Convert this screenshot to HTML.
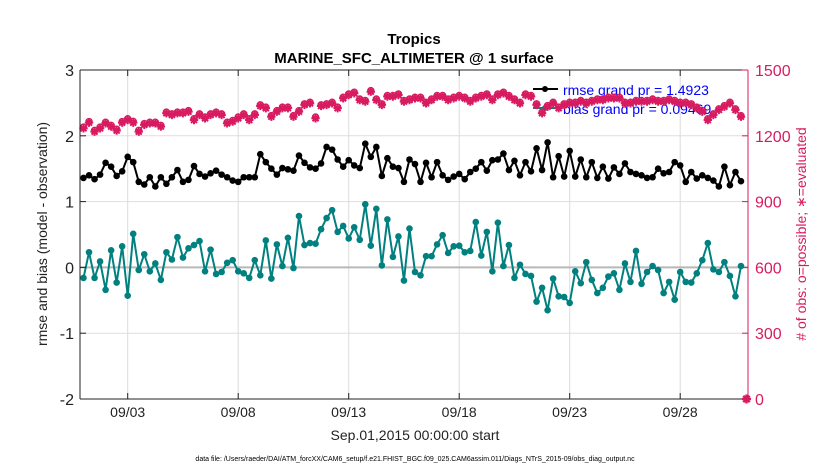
<!DOCTYPE html>
<html><head><meta charset="utf-8"><style>
body{margin:0;background:#fff;}
svg{display:block;font-family:"Liberation Sans",Arial,sans-serif;}
</style></head><body>
<svg id="chart" width="830" height="470" viewBox="0 0 830 470"></svg>
<script>
const rmse=[1.36,1.40,1.34,1.41,1.59,1.53,1.39,1.46,1.68,1.60,1.30,1.26,1.37,1.23,1.37,1.27,1.37,1.48,1.30,1.33,1.54,1.42,1.38,1.43,
1.47,1.41,1.37,1.32,1.30,1.37,1.37,1.37,1.72,1.60,1.50,1.41,1.51,1.49,1.47,1.70,1.59,1.52,1.50,1.58,1.83,1.79,1.64,1.53,
1.63,1.55,1.51,1.88,1.68,1.83,1.39,1.66,1.53,1.51,1.30,1.64,1.57,1.30,1.59,1.37,1.60,1.40,1.33,1.38,1.42,1.34,1.45,1.50,
1.60,1.47,1.63,1.64,1.73,1.48,1.62,1.40,1.60,1.46,1.81,1.48,1.90,1.37,1.69,1.38,1.77,1.38,1.64,1.37,1.60,1.36,1.53,1.35,
1.52,1.42,1.58,1.45,1.42,1.40,1.36,1.37,1.50,1.43,1.45,1.60,1.55,1.30,1.45,1.35,1.40,1.36,1.32,1.23,1.53,1.25,1.45,1.31];
const bias=[-0.16,0.23,-0.16,0.09,-0.34,0.26,-0.23,0.32,-0.43,0.51,-0.04,0.20,-0.06,0.06,-0.19,0.23,0.12,0.46,0.15,0.29,0.34,0.40,-0.06,0.27,
-0.10,-0.07,0.07,0.11,-0.06,-0.09,-0.16,0.11,-0.12,0.41,-0.17,0.35,0.02,0.45,-0.01,0.78,0.34,0.37,0.36,0.58,0.75,0.87,0.54,0.63,
0.44,0.61,0.42,0.96,0.33,0.89,0.03,0.73,0.16,0.47,-0.20,0.59,-0.07,-0.12,0.17,0.17,0.35,0.49,0.22,0.32,0.33,0.23,0.25,0.69,
0.18,0.54,-0.06,0.68,0.02,0.34,-0.16,0.04,-0.10,-0.13,-0.52,-0.31,-0.65,-0.17,-0.44,-0.45,-0.54,-0.06,-0.24,0.08,-0.19,-0.39,
-0.31,-0.14,-0.09,-0.34,0.06,-0.22,0.25,-0.25,-0.07,0.02,-0.04,-0.39,-0.22,-0.49,-0.07,-0.22,-0.23,-0.09,0.11,0.37,-0.03,-0.07,0.08,-0.13,-0.44,0.02];
const obsUsed=[1234,1260,1219,1234,1257,1242,1224,1260,1272,1260,1219,1250,1257,1257,1242,1303,1295,1303,1303,1310,1272,1295,1280,1295,
1303,1295,1257,1265,1280,1295,1272,1295,1336,1326,1287,1310,1326,1326,1287,1310,1341,1348,1280,1336,1341,1348,1326,1371,
1386,1394,1363,1356,1401,1363,1341,1379,1379,1386,1356,1363,1371,1371,1348,1363,1379,1379,1363,1371,1379,1371,1356,1371,
1379,1386,1363,1386,1394,1379,1363,1348,1386,1379,1341,1303,1333,1348,1326,1341,1348,1348,1356,1348,1356,1363,1363,1371,
1371,1371,1348,1348,1356,1356,1356,1363,1356,1356,1363,1356,1348,1348,1341,1326,1310,1272,1295,1318,1333,1348,1318,1287];
const obsPossible=[1240,1265,1225,1240,1262,1248,1230,1265,1278,1266,1225,1256,1262,1262,1248,1308,1300,1308,1308,1315,1278,1300,1286,1300,
1308,1300,1262,1270,1286,1300,1278,1300,1341,1331,1292,1315,1331,1331,1292,1315,1346,1353,1286,1341,1346,1353,1331,1376,
1391,1399,1368,1361,1406,1368,1346,1384,1384,1391,1361,1368,1376,1376,1353,1368,1384,1384,1368,1376,1384,1376,1361,1376,
1384,1391,1368,1391,1399,1384,1368,1353,1391,1384,1346,1308,1338,1353,1331,1346,1353,1353,1361,1353,1361,1368,1368,1376,
1376,1376,1353,1353,1361,1361,1361,1368,1361,1361,1368,1361,1353,1353,1346,1331,1315,1278,1300,1323,1338,1353,1323,1292];
const xTickDays=[2,7,12,17,22,27];
const xTickLabels=["09/03","09/08","09/13","09/18","09/23","09/28"];
const yTicks=[3,2,1,0,-1,-2];
const y2Ticks=[1500,1200,900,600,300,0];

const NS="http://www.w3.org/2000/svg";
const svg=document.getElementById('chart');
const L=80,R=748,T=70,B=399;
const xs=d=>83.5+d*22.1;
const ys=v=>T+(3-v)*(B-T)/5;
const y2s=v=>B-v*(B-T)/1500;
function mk(tag,attrs,parent){const e=document.createElementNS(NS,tag);for(const k in attrs)e.setAttribute(k,attrs[k]);(parent||svg).appendChild(e);return e;}
const MAG="#d81b60",TEAL="#00807f";

yTicks.forEach(v=>{if(v!==3&&v!==-2){const g=mk('line',{x1:L,x2:R,y1:ys(v),y2:ys(v),stroke:'#ecd7df','stroke-width':1});

}});
xTickDays.forEach(d=>{const g=mk('line',{x1:xs(d),x2:xs(d),y1:T,y2:B,stroke:'#dcdcdc','stroke-width':1});

});

const lg=mk('g',{});


mk('line',{x1:533,x2:558,y1:89,y2:89,stroke:'#000','stroke-width':2},lg);
mk('circle',{cx:545,cy:89,r:3,fill:'#000'},lg);
const lt1=mk('text',{x:563,y:95,'font-size':14,fill:'#0000ff'},lg);lt1.textContent='rmse grand pr = 1.4923';


mk('line',{x1:533,x2:558,y1:108,y2:108,stroke:TEAL,'stroke-width':2},lg);
mk('circle',{cx:545,cy:108,r:3,fill:TEAL},lg);
const lt2=mk('text',{x:563,y:114,'font-size':14,fill:'#0000ff'},lg);lt2.textContent='bias grand pr = 0.09469';



const zl=mk('line',{x1:L,x2:R,y1:ys(0),y2:ys(0),stroke:'#b8b8b8','stroke-width':2});



const og=mk('g',{});


obsPossible.forEach((v,i)=>{const c=mk('circle',{cx:xs(i/4),cy:y2s(v),r:3,fill:'none',stroke:MAG,'stroke-width':1.4},og);

});
obsUsed.forEach((v,i)=>{const x=xs(i/4),y=y2s(v);const p=mk('path',{d:`M${x-4.2},${y}H${x+4.2}M${x},${y-4.2}V${y+4.2}M${x-3},${y-3}L${x+3},${y+3}M${x-3},${y+3}L${x+3},${y-3}`,stroke:MAG,'stroke-width':2},og);

});
{const x=xs(30.0),y=y2s(0);const p=mk('path',{d:`M${x-4.5},${y}H${x+4.5}M${x},${y-4.5}V${y+4.5}M${x-3.2},${y-3.2}L${x+3.2},${y+3.2}M${x-3.2},${y+3.2}L${x+3.2},${y-3.2}`,stroke:MAG,'stroke-width':2.4});

}

function series(arr,color,name){
 const g=mk('g',{});
 
 
 mk('polyline',{points:arr.map((v,i)=>xs(i/4)+','+ys(v)).join(' '),fill:'none',stroke:color,'stroke-width':2,'stroke-linejoin':'round'},g);
 arr.forEach((v,i)=>{const c=mk('circle',{cx:xs(i/4),cy:ys(v),r:3.3,fill:color},g);
 
 });
}
series(rmse,'#000','rmse-series');
series(bias,TEAL,'bias-series');

const ax=mk('g',{});


mk('line',{x1:L,x2:R,y1:T,y2:T,stroke:'#222','stroke-width':1},ax);
mk('line',{x1:L,x2:R,y1:B,y2:B,stroke:'#222','stroke-width':1},ax);
mk('line',{x1:L,x2:L,y1:T,y2:B,stroke:'#222','stroke-width':1},ax);
mk('line',{x1:R,x2:R,y1:T,y2:B,stroke:MAG,'stroke-width':1},ax);
yTicks.forEach(v=>{mk('line',{x1:L,x2:L+6,y1:ys(v),y2:ys(v),stroke:'#222'},ax);
 const t=mk('text',{x:L-6,y:ys(v)+6,'font-size':16,'text-anchor':'end',fill:'#222'},ax);t.textContent=v;
 
 });
y2Ticks.forEach(v=>{mk('line',{x1:R-6,x2:R,y1:y2s(v),y2:y2s(v),stroke:MAG},ax);
 const t=mk('text',{x:R+7,y:y2s(v)+6,'font-size':16,fill:MAG},ax);t.textContent=v;
 
 });
xTickDays.forEach((d,i)=>{mk('line',{x1:xs(d),x2:xs(d),y1:B-6,y2:B,stroke:'#222'},ax);mk('line',{x1:xs(d),x2:xs(d),y1:T,y2:T+6,stroke:'#222'},ax);
 const t=mk('text',{x:xs(d),y:417,'font-size':14,'text-anchor':'middle',fill:'#222'},ax);t.textContent=xTickLabels[i];
 
 });

function txt(s,attrs,name){const t=mk('text',attrs);t.textContent=s;
 
 return t;}
txt('Tropics',{x:414,y:44,'font-size':15,'font-weight':'bold','text-anchor':'middle',fill:'#000'},'chart-title');
txt('MARINE_SFC_ALTIMETER @ 1 surface',{x:414,y:63,'font-size':15,'font-weight':'bold','text-anchor':'middle',fill:'#000'},'chart-subtitle');
txt('rmse and bias (model - observation)',{x:0,y:0,'font-size':14,'text-anchor':'middle',fill:'#222',transform:'translate(47,234) rotate(-90)'},'y-axis-title');
txt('# of obs: o=possible; \u2217=evaluated',{x:0,y:0,'font-size':14,'text-anchor':'middle',fill:MAG,transform:'translate(806,234) rotate(-90)'},'y2-axis-title');
txt('Sep.01,2015 00:00:00 start',{x:415,y:440,'font-size':14,'text-anchor':'middle',fill:'#222'},'x-axis-title');
txt('data file: /Users/raeder/DAI/ATM_forcXX/CAM6_setup/f.e21.FHIST_BGC.f09_025.CAM6assim.011/Diags_NTrS_2015-09/obs_diag_output.nc',{x:415,y:461,'font-size':7,'text-anchor':'middle',fill:'#000'},'data-file-note');
</script>
</body></html>
